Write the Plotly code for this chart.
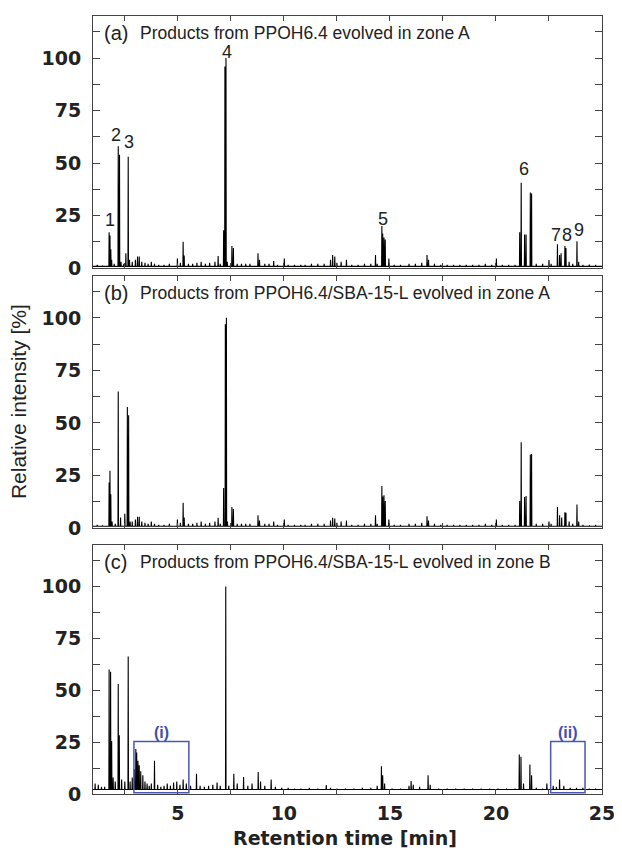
import plotly.graph_objects as go

# ---------------- data (retention time [min], relative intensity [%]) ----------------
# Panel (a): PPOH6.4, zone A
a_times = [1.20, 1.45, 1.76, 1.80, 1.84, 1.88, 2.00, 2.19, 2.25, 2.32, 2.45, 2.55, 2.66, 2.72,
           2.85, 3.00, 3.10, 3.18, 3.30, 3.45, 3.60, 3.75, 3.90, 4.10, 4.35, 4.60, 4.98, 5.12,
           5.25, 5.30, 5.50, 5.70, 5.90, 6.10, 6.30, 6.50, 6.75, 6.90, 7.00, 7.16, 7.22, 7.27,
           7.33, 7.55, 7.62, 7.80, 8.00, 8.20, 8.40, 8.78, 8.85, 9.10, 9.30, 9.52, 9.70, 10.02,
           10.20, 10.50, 10.80, 11.00, 11.30, 11.60, 11.90, 12.20, 12.30, 12.40, 12.50, 12.70,
           12.95, 13.20, 13.50, 13.80, 14.10, 14.32, 14.40, 14.62, 14.66, 14.72, 14.78, 14.95,
           15.20, 15.50, 15.90, 16.20, 16.50, 16.75, 16.82, 17.10, 17.40, 17.70, 18.00, 18.30,
           18.60, 18.90, 19.20, 19.50, 19.80, 20.02, 20.30, 20.60, 20.90, 21.12, 21.19, 21.35,
           21.42, 21.62, 21.68, 21.90, 22.20, 22.50, 22.60, 22.90, 23.00, 23.07, 23.25, 23.30,
           23.45, 23.62, 23.82, 23.90, 24.10, 24.40, 24.70]
a_vals = [1.5, 1.0, 17.0, 15.5, 9.0, 4.0, 2.0, 58.0, 54.0, 3.0, 2.0, 7.0, 53.0, 4.0,
          3.0, 4.0, 5.5, 5.5, 3.0, 2.5, 2.0, 3.0, 2.0, 1.5, 1.5, 2.0, 4.5, 2.5,
          12.5, 6.0, 2.0, 2.0, 2.5, 3.0, 2.0, 2.5, 3.0, 5.7, 2.0, 18.0, 96.0, 100.0,
          3.0, 10.5, 9.5, 2.0, 2.0, 2.0, 2.0, 7.0, 4.0, 2.0, 2.0, 3.3, 1.5, 4.6,
          1.5, 1.5, 1.5, 1.5, 2.0, 2.0, 2.0, 4.0, 6.2, 5.5, 2.5, 3.0,
          4.0, 1.5, 1.5, 2.0, 2.0, 6.2, 2.0, 20.0, 16.5, 14.6, 13.6, 4.6,
          1.5, 1.5, 2.0, 2.0, 2.5, 6.2, 4.0, 2.0, 1.5, 1.5, 1.5, 1.5,
          1.5, 1.5, 1.5, 2.0, 1.5, 4.6, 1.5, 1.5, 1.5, 17.0, 40.6, 16.0,
          16.0, 36.0, 35.5, 2.0, 2.0, 3.8, 2.0, 11.3, 6.2, 7.0, 10.5, 9.5,
          3.0, 2.0, 12.8, 3.0, 1.5, 1.7, 1.5]

# Panel (b): PPOH6.4/SBA-15-L, zone A
b_times = [1.20, 1.45, 1.76, 1.80, 1.84, 1.90, 2.05, 2.19, 2.30, 2.50, 2.62, 2.68, 2.75,
           2.85, 3.00, 3.10, 3.18, 3.30, 3.45, 3.60, 3.75, 3.90, 4.10, 4.35, 4.60, 4.98, 5.12,
           5.25, 5.30, 5.50, 5.70, 5.90, 6.10, 6.30, 6.50, 6.75, 6.90, 7.00, 7.16, 7.24, 7.29,
           7.34, 7.55, 7.62, 7.80, 8.00, 8.20, 8.40, 8.78, 8.85, 9.10, 9.30, 9.52, 9.70, 10.02,
           10.20, 10.50, 10.80, 11.00, 11.30, 11.60, 11.90, 12.20, 12.30, 12.40, 12.50, 12.70,
           12.95, 13.20, 13.50, 13.80, 14.10, 14.32, 14.40, 14.62, 14.66, 14.72, 14.78, 14.95,
           15.20, 15.50, 15.90, 16.20, 16.50, 16.75, 16.82, 17.10, 17.40, 17.70, 18.00, 18.30,
           18.60, 18.90, 19.20, 19.50, 19.80, 20.02, 20.30, 20.60, 20.90, 21.12, 21.19, 21.35,
           21.42, 21.62, 21.68, 21.90, 22.20, 22.50, 22.60, 22.90, 23.00, 23.10, 23.25, 23.30,
           23.45, 23.62, 23.82, 23.90, 24.10, 24.40, 24.70]
b_vals = [1.5, 1.0, 21.6, 27.2, 16.0, 3.0, 2.0, 65.0, 5.0, 6.7, 57.6, 53.6, 3.0,
          3.0, 4.0, 5.3, 5.3, 3.0, 2.5, 2.0, 3.0, 2.0, 1.5, 1.5, 2.0, 4.0, 2.5,
          12.0, 5.0, 2.0, 2.0, 2.5, 3.0, 2.0, 2.5, 3.0, 4.8, 2.0, 19.0, 97.0, 100.0,
          3.0, 10.0, 9.0, 2.0, 2.0, 2.0, 2.0, 6.0, 3.5, 2.0, 2.0, 3.0, 1.5, 4.0,
          1.5, 1.5, 1.5, 1.5, 2.0, 2.0, 2.0, 3.5, 4.8, 4.5, 2.5, 3.0,
          3.5, 1.5, 1.5, 2.0, 2.0, 6.0, 2.0, 20.0, 15.0, 15.5, 12.8, 4.0,
          1.5, 1.5, 2.0, 2.0, 2.5, 5.6, 3.5, 2.0, 1.5, 1.5, 1.5, 1.5,
          1.5, 1.5, 1.5, 2.0, 1.5, 4.0, 1.5, 1.5, 1.5, 12.8, 40.8, 14.7,
          15.2, 35.0, 35.2, 2.0, 2.0, 3.0, 2.0, 10.0, 6.0, 5.0, 7.5, 7.2,
          3.0, 2.0, 11.2, 3.0, 1.5, 1.0, 1.5]

# Panel (c): PPOH6.4/SBA-15-L, zone B
c_times = [1.10, 1.25, 1.40, 1.55, 1.76, 1.83, 1.88, 1.95, 2.05, 2.19, 2.24, 2.35, 2.50,
           2.66, 2.75, 2.85, 2.95, 3.02, 3.06, 3.12, 3.18, 3.25, 3.35, 3.45, 3.55, 3.65,
           3.75, 3.90, 4.05, 4.20, 4.35, 4.50, 4.65, 4.80, 4.95, 5.10, 5.25, 5.40, 5.60,
           5.88, 6.05, 6.25, 6.45, 6.65, 6.85, 7.00, 7.26, 7.40, 7.64, 7.80, 8.10, 8.30,
           8.50, 8.79, 8.90, 9.10, 9.40, 9.60, 9.90, 10.20, 10.50, 10.80, 11.20, 11.60,
           12.00, 12.20, 12.50, 12.90, 13.30, 13.70, 14.10, 14.40, 14.60, 14.66, 14.75,
           15.10, 15.50, 15.90, 16.00, 16.10, 16.40, 16.80, 16.90, 17.30, 17.70, 18.10,
           18.50, 18.90, 19.30, 19.70, 20.10, 20.50, 20.90, 21.10, 21.18, 21.30, 21.60,
           21.68, 21.90, 22.20, 22.40, 22.70, 22.85, 23.00, 23.20, 23.50, 23.80, 24.10,
           24.40, 24.70]
c_vals = [5.0, 4.5, 3.5, 3.5, 60.0, 58.9, 25.6, 8.0, 6.0, 53.0, 28.3, 7.0, 6.0,
          66.3, 6.0, 8.0, 12.0, 21.7, 20.0, 16.0, 13.8, 11.0, 9.0, 6.0, 5.0, 4.0,
          5.0, 16.0, 4.5, 3.5, 4.0, 5.0, 4.0, 5.5, 6.0, 4.5, 7.0, 5.0, 4.0,
          9.8, 4.0, 3.5, 4.0, 4.5, 5.5, 4.0, 100.0, 4.0, 9.8, 5.0, 8.2, 4.0,
          5.0, 10.6, 6.0, 4.0, 7.0, 3.5, 3.0, 3.0, 2.5, 2.5, 3.0, 2.5,
          4.3, 3.0, 2.5, 2.5, 2.5, 3.0, 3.0, 4.0, 13.4, 9.0, 5.0,
          2.5, 2.5, 4.0, 6.2, 4.5, 3.5, 9.0, 4.5, 2.5, 2.5, 2.5,
          2.5, 2.5, 2.5, 2.5, 2.5, 2.5, 2.5, 19.0, 18.0, 5.0, 14.2,
          9.0, 3.0, 2.5, 5.0, 4.0, 3.5, 7.0, 4.0, 3.0, 3.0, 3.0,
          2.5, 2.5]

baseline_a = 0.8
baseline_b = 0.8
baseline_c = 2.2

panel_titles = ["Products from PPOH6.4 evolved in zone A",
                "Products from PPOH6.4/SBA-15-L evolved in zone A",
                "Products from PPOH6.4/SBA-15-L evolved in zone B"]
panel_tags = ["(a)", "(b)", "(c)"]

peak_labels = ["1", "2", "3", "4", "5", "6", "7", "8", "9"]
peak_label_t = [1.79, 2.08, 2.69, 7.30, 14.69, 21.30, 22.85, 23.36, 23.90]
peak_label_y = [23.0, 63.5, 60.0, 103.0, 23.5, 47.0, 15.7, 15.7, 18.0]

# highlighted regions in panel (c)
box_names = ["(i)", "(ii)"]
box_t0 = [2.93, 22.58]
box_t1 = [5.52, 24.20]
box_top = [25.3, 25.3]

y_tickvals = [0, 12.5, 25, 37.5, 50, 62.5, 75, 87.5, 100, 112.5]
y_ticktext = ["0", "", "25", "", "50", "", "75", "", "100", ""]
x_tickvals = [2.5, 5, 7.5, 10, 12.5, 15, 17.5, 20, 22.5, 25]
x_ticktext = ["", "5", "", "10", "", "15", "", "20", "", "25"]

# ---------------- build figure ----------------
def stick_trace(times, vals, base, xa, ya, w=0.012):
    xs, ys = [], []
    for t, v in sorted(zip(times, vals)):
        xs += [t - w, t, t + w]
        ys += [base, v, base]
    return go.Scatter(x=[1.0] + xs + [25.0], y=[base] + ys + [base], mode="lines",
                      line=dict(color="black", width=1.1), xaxis=xa, yaxis=ya,
                      showlegend=False, hoverinfo="skip")

fig = go.Figure()
fig.add_trace(stick_trace(a_times, a_vals, baseline_a, "x", "y"))
fig.add_trace(stick_trace(b_times, b_vals, baseline_b, "x2", "y2"))
fig.add_trace(stick_trace(c_times, c_vals, baseline_c, "x3", "y3"))

tickfont = dict(family="DejaVu Sans", size=19, color="#222", weight="bold")
axis_common = dict(showline=True, linecolor="#444", linewidth=1, mirror="ticks",
                   ticks="inside", tickcolor="#444", showgrid=False, zeroline=False,
                   automargin=False)

# the page body adds an 8 px offset, so the figure is 8 px smaller and margins compensate
domains = [[0.676, 1.0], [0.342, 0.666], [0.0, 0.320]]
layout = dict(width=614, height=848, margin=dict(l=85, r=20, t=8, b=62),
              paper_bgcolor="white", plot_bgcolor="white", showlegend=False)
for i, dom in enumerate(domains):
    sx = "" if i == 0 else str(i + 1)
    layout["xaxis" + sx] = dict(range=[1, 25], domain=[0, 1], anchor="y" + sx,
                                tickvals=x_tickvals, ticktext=x_ticktext,
                                showticklabels=(i == 2), tickfont=tickfont,
                                ticklen=5, ticklabelstandoff=2, **axis_common)
    layout["yaxis" + sx] = dict(range=[0, 120], domain=dom, anchor="x" + sx,
                                tickvals=y_tickvals, ticktext=y_ticktext,
                                tickfont=tickfont, ticklen=7, ticklabelstandoff=7,
                                **axis_common)
fig.update_layout(**layout)

annotations = []
for i in range(3):
    sx = "" if i == 0 else str(i + 1)
    annotations.append(dict(x=1.42, y=112, xref="x" + sx, yref="y" + sx, text=panel_tags[i],
                            showarrow=False, xanchor="left", yanchor="middle",
                            font=dict(family="Liberation Sans", size=20, color="#222")))
    annotations.append(dict(x=3.12, y=112, xref="x" + sx, yref="y" + sx, text=panel_titles[i],
                            showarrow=False, xanchor="left", yanchor="middle",
                            font=dict(family="Liberation Sans", size=17.5, color="#222")))
for lab, t, yv in zip(peak_labels, peak_label_t, peak_label_y):
    annotations.append(dict(x=t, y=yv, xref="x", yref="y", text=lab, showarrow=False,
                            xanchor="center", yanchor="middle",
                            font=dict(family="Liberation Sans", size=18, color="#222")))

shapes = []
for name, t0, t1, top in zip(box_names, box_t0, box_t1, box_top):
    shapes.append(dict(type="rect", xref="x3", yref="y3", x0=t0, x1=t1, y0=0.6, y1=top,
                       line=dict(color="#4a58b0", width=1.5), fillcolor="rgba(0,0,0,0)"))
    annotations.append(dict(x=(t0 + t1) / 2, y=top + 4.5, xref="x3", yref="y3", text=name,
                            showarrow=False, xanchor="center", yanchor="middle",
                            font=dict(family="Liberation Sans", size=16, color="#3f4fb0",
                                      weight="bold")))

annotations.append(dict(x=-0.145, y=0.504, xref="paper", yref="paper",
                        text="Relative intensity [%]", textangle=-90, showarrow=False,
                        xanchor="center", yanchor="middle",
                        font=dict(family="Liberation Sans", size=21, color="#222")))
annotations.append(dict(x=0.495, y=-0.057, xref="paper", yref="paper",
                        text="Retention time [min]", showarrow=False,
                        xanchor="center", yanchor="middle",
                        font=dict(family="DejaVu Sans", size=19, color="#222", weight="bold")))

fig.update_layout(annotations=annotations, shapes=shapes)
fig.write_html("out.html")
